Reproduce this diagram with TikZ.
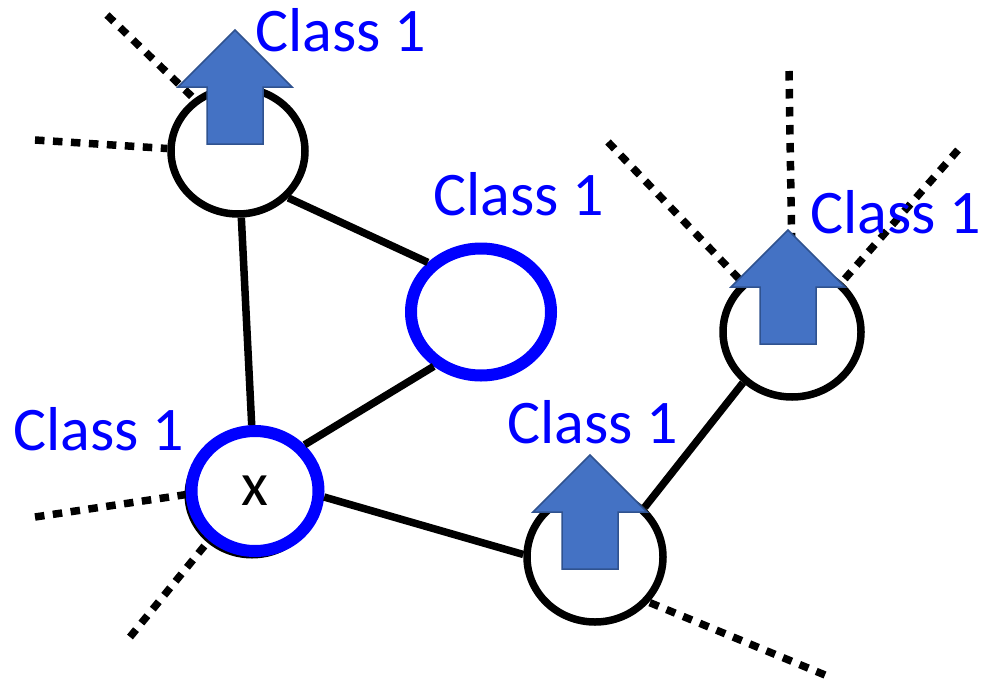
\documentclass[tikz,border=0pt]{standalone}
\usepackage{fontspec}
\setmainfont{Carlito}
\usetikzlibrary{shapes.geometric}
\definecolor{ringblue}{RGB}{0,0,255}
\definecolor{arrowfill}{RGB}{68,114,196}
\definecolor{arrowedge}{RGB}{47,82,143}
\tikzset{
  vertex/.style={ellipse, draw, line width=7.5pt, fill=white, inner sep=0pt},
  bluevertex/.style={vertex, draw=ringblue, line width=12pt},
  edge/.style={line width=7.5pt},
  dotline/.style={line width=7.5pt, dash pattern=on 9.5pt off 8.5pt},
  classlabel/.style={anchor=base west, inner sep=0pt, text=ringblue, font=\fontsize{62}{70}\selectfont},
  classarrow/.style={fill=arrowfill, draw=arrowedge, line width=1.5pt, line join=miter},
}
\newcommand{\classArrow}[1]{%
  \draw[classarrow] (#1) ++(-28,0) -- ++(0,-57) -- ++(-29,0) -- ++(57,-57)
    -- ++(57,57) -- ++(-29,0) -- ++(0,57) -- cycle;}
\begin{document}
\begin{tikzpicture}[x=1pt,y=-1pt]
\useasboundingbox (0,0) rectangle (982,685);

% dark rims under the blue rings
\draw[line width=7pt] (252,495) ellipse (64 and 60);
\draw[line width=6pt] (483,314) ellipse (69 and 63);

% vertices
\node[vertex, minimum width=134pt, minimum height=126pt] (upper) at (238,151) {};
\node[bluevertex, minimum width=140pt, minimum height=127pt] (middle) at (481,312) {};
\node[bluevertex, minimum width=127pt, minimum height=120pt, font=\fontsize{62}{70}\selectfont] (x) at (255,491) {x};
\node[vertex, minimum width=136pt, minimum height=130pt] (lower) at (595,557) {};
\node[vertex, minimum width=138pt, minimum height=130pt] (far) at (792,332) {};

% edges
\draw[edge] (upper) -- (x);
\draw[edge] (upper.-43) -- (middle.137);
\draw[edge] (middle.229) -- (x.43);
\draw[edge] (x.-5) -- (lower.178);
\draw[edge] (lower.45) -- (far.226);

% loose ends
\coordinate (u1) at (35,140);
\coordinate (u2) at (107,15);
\coordinate (x1) at (35,517);
\coordinate (x2) at (130,637);
\coordinate (l1) at (825,675);
\coordinate (f1) at (608,142);
\coordinate (f2) at (789,71);
\coordinate (f3) at (958,150);
\draw[dotline] (u1) -- (upper.178);
\draw[dotline] (u2) -- (upper.130);
\draw[dotline] (x1) -- (x.183);
\draw[dotline] (x2) -- (x.227);
\draw[dotline] (l1) -- (lower.-40);
\draw[dotline] (f1) -- (far.135);
\draw[dotline] (f2) -- (far.90);
\draw[dotline] (f3) -- (far.45);

% class arrows
\classArrow{235,144}
\classArrow{590,569}
\classArrow{788,344}

% labels
\node[classlabel] (lblUpper) at (255,52) {Class 1};
\node[classlabel] (lblMiddle) at (433,215) {Class 1};
\node[classlabel] (lblX) at (13,450) {Class 1};
\node[classlabel] (lblLower) at (507,443) {Class 1};
\node[classlabel] (lblFar) at (810,233) {Class 1};
\end{tikzpicture}
\end{document}
